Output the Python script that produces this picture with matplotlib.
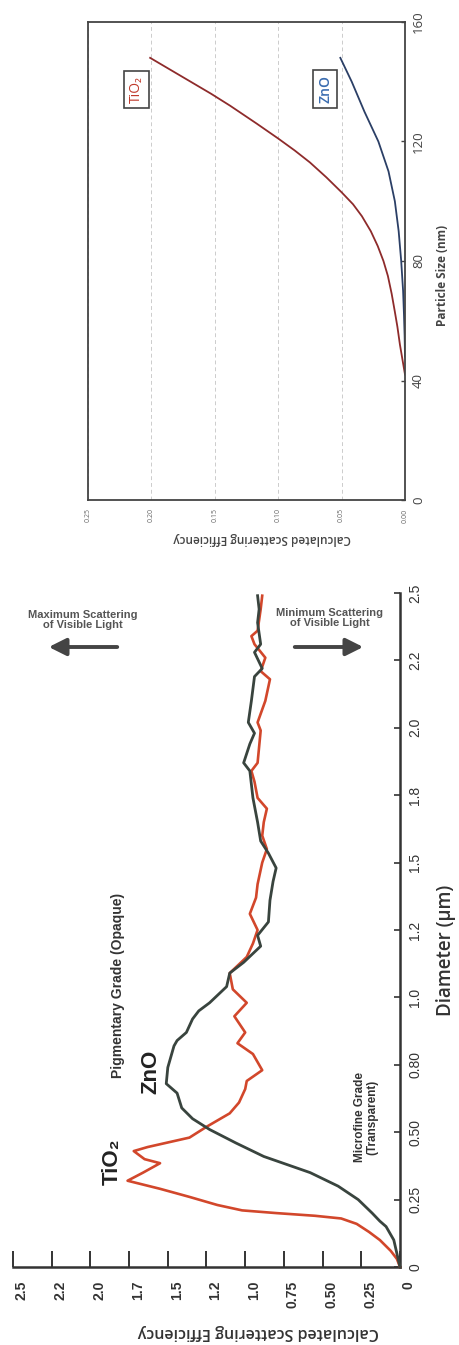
import matplotlib
matplotlib.use("Agg")
import matplotlib.pyplot as plt
import matplotlib.transforms as mtransforms
from matplotlib.patches import FancyArrowPatch

# ---------------- upper panel data (Particle size in nm) ----------------
size_tio2_nm = [42, 47, 52, 58, 63, 69, 75, 80, 85, 90, 95, 99, 103, 108, 113, 117, 121,
                126, 132, 136, 140, 144, 148]
eff_tio2_nm = [0.000, 0.002, 0.004, 0.006, 0.008, 0.0105, 0.0135, 0.0170, 0.0215, 0.027,
               0.034, 0.041, 0.050, 0.062, 0.075, 0.087, 0.100, 0.117, 0.138, 0.153, 0.169,
               0.185, 0.201]
size_zno_nm = [48, 55, 62, 70, 80, 90, 100, 110, 120, 130, 140, 148]
eff_zno_nm = [0.000, 0.0003, 0.0008, 0.0015, 0.003, 0.005, 0.008, 0.013, 0.021, 0.032,
              0.042, 0.051]
upper_size_ticks = [0, 40, 80, 120, 160]
upper_eff_ticks = [0.00, 0.05, 0.10, 0.15, 0.20, 0.25]
upper_eff_ticklabels = ["0.00", "0.05", "0.10", "0.15", "0.20", "0.25"]

# ---------------- lower panel data (Diameter in um) ----------------
diam_tio2 = [0, 0.03, 0.06, 0.10, 0.13, 0.16, 0.18, 0.19, 0.20, 0.21, 0.23, 0.26, 0.29, 0.32,
             0.35, 0.385, 0.40, 0.43, 0.445, 0.48, 0.52, 0.57, 0.61, 0.66, 0.69, 0.73, 0.79,
             0.83, 0.87, 0.93, 0.98, 1.03, 1.09, 1.15, 1.20, 1.25, 1.31, 1.37, 1.42, 1.50,
             1.55, 1.60, 1.65, 1.70, 1.74, 1.80, 1.84, 1.87, 1.93, 1.99, 2.02, 2.10, 2.18,
             2.21, 2.26, 2.31, 2.34, 2.36, 2.40, 2.44, 2.49]
eff_tio2 = [0, 0.02, 0.06, 0.13, 0.20, 0.28, 0.38, 0.55, 0.80, 1.02, 1.18, 1.36, 1.55, 1.76,
            1.66, 1.55, 1.65, 1.72, 1.63, 1.36, 1.25, 1.10, 1.04, 1.00, 0.99, 0.89, 0.95,
            1.05, 1.00, 1.07, 0.99, 1.08, 1.10, 0.99, 0.95, 0.92, 0.97, 0.93, 0.92, 0.89,
            0.86, 0.89, 0.88, 0.86, 0.92, 0.94, 0.96, 0.92, 0.91, 0.90, 0.92, 0.87, 0.84,
            0.90, 0.87, 0.94, 0.96, 0.92, 0.91, 0.90, 0.89]
diam_zno = [0, 0.05, 0.10, 0.15, 0.17, 0.20, 0.25, 0.30, 0.35, 0.41, 0.46, 0.51, 0.55, 0.59,
            0.645, 0.68, 0.74, 0.82, 0.84, 0.87, 0.92, 0.95, 0.98, 1.04, 1.09, 1.13, 1.19,
            1.23, 1.28, 1.36, 1.43, 1.48, 1.535, 1.58, 1.65, 1.74, 1.84, 1.87, 1.94, 1.98,
            2.02, 2.10, 2.19, 2.22, 2.28, 2.31, 2.39, 2.44, 2.49]
eff_zno = [0, 0.02, 0.04, 0.09, 0.13, 0.18, 0.27, 0.40, 0.58, 0.88, 1.06, 1.23, 1.34, 1.41,
           1.44, 1.51, 1.50, 1.46, 1.44, 1.38, 1.34, 1.30, 1.23, 1.12, 1.10, 1.01, 0.90,
           0.92, 0.85, 0.84, 0.82, 0.80, 0.85, 0.90, 0.92, 0.95, 0.97, 1.01, 0.97, 0.94,
           0.98, 0.96, 0.94, 0.89, 0.94, 0.90, 0.92, 0.91, 0.92]
lower_eff_ticks = [0, 0.25, 0.5, 0.75, 1.0, 1.25, 1.5, 1.75, 2.0, 2.25, 2.5]
lower_eff_ticklabels = ["0", "0.25", "0.50", "0.75", "1.0", "1.2", "1.5", "1.7", "2.0", "2.2", "2.5"]
lower_diam_ticks = [0, 0.25, 0.5, 0.75, 1.0, 1.25, 1.5, 1.75, 2.0, 2.25, 2.5]
lower_diam_ticklabels = ["0", "0.25", "0.50", "0.80", "1.0", "1.2", "1.5", "1.8", "2.0", "2.2", "2.5"]

W, H = 460, 1345
fig = plt.figure(figsize=(W / 100, H / 100), dpi=100)
fig.patch.set_facecolor("white")


def fx(x):
    return x / W


def fy(y):
    return 1 - y / H


UP_FONT = ["Open Sans", "DejaVu Sans"]
LO_FONT = ["Liberation Sans", "DejaVu Sans"]

# ======================= upper panel =======================
ax1 = fig.add_axes([fx(88), fy(500), (405 - 88) / W, (500 - 22) / H])
ax1.plot(eff_tio2_nm, size_tio2_nm, color="#8e2b2b", lw=1.3)
ax1.plot(eff_zno_nm, size_zno_nm, color="#2b3f66", lw=1.3)
ax1.set_xlim(0.25, 0)
ax1.set_ylim(0, 160)
ax1.yaxis.tick_right()
ax1.set_yticks(upper_size_ticks)
ax1.set_yticklabels([str(v) for v in upper_size_ticks], rotation=90, va="center",
                    fontsize=9.5, color="#444444", family=UP_FONT)
ax1.set_xticks(upper_eff_ticks)
ax1.set_xticklabels(upper_eff_ticklabels, rotation=90, fontsize=5, color="#666666",
                    family=UP_FONT)
ax1.tick_params(axis="y", direction="in", length=3, width=1, pad=5, colors="#444444")
ax1.tick_params(axis="x", length=0, pad=6)
ax1.grid(axis="x", linestyle=(0, (4, 3)), color="#cccccc", lw=0.7)
for s in ax1.spines.values():
    s.set_color("#444444")
    s.set_linewidth(1.3)

ax1.text(0.212, 137.5, "TiO₂", rotation=90, ha="center", va="center", color="#c0392b",
         fontsize=10, family=UP_FONT,
         bbox=dict(boxstyle="square,pad=0.35", fc="white", ec="#444444", lw=1.2))
ax1.text(0.063, 137.5, "ZnO", rotation=90, ha="center", va="center", color="#3b6db0",
         fontsize=10, fontweight="semibold", family=UP_FONT,
         bbox=dict(boxstyle="square,pad=0.35", fc="white", ec="#444444", lw=1.2))

fig.text(fx(443), fy(275), "Particle Size (nm)", rotation=90, ha="center", va="center",
         fontsize=8.5, fontweight="bold", color="#444444", family=UP_FONT)
fig.text(fx(262), fy(538), "Calculated Scattering Efficiency", rotation=180, ha="center",
         va="center", fontsize=8.5, fontweight="semibold", color="#444444", family=UP_FONT)

# ======================= lower panel =======================
ax2 = fig.add_axes([fx(13), fy(1267), (400 - 13) / W, (1267 - 593) / H])
ax2.plot(eff_tio2, diam_tio2, color="#d2472b", lw=1.9, clip_on=False, zorder=3)
ax2.plot(eff_zno, diam_zno, color="#39443e", lw=2.0, clip_on=False, zorder=4)
ax2.set_xlim(2.5, 0)
ax2.set_ylim(0, 2.5)
ax2.spines["left"].set_visible(False)
ax2.spines["top"].set_visible(False)
for s in ("bottom", "right"):
    ax2.spines[s].set_color("#333333")
    ax2.spines[s].set_linewidth(1.8)
ax2.yaxis.tick_right()
ax2.set_xticks(lower_eff_ticks)
ax2.set_xticklabels(lower_eff_ticklabels, rotation=90, fontsize=10, fontweight="bold",
                    color="#555555", family=LO_FONT)
ax2.set_yticks(lower_diam_ticks)
ax2.set_yticklabels(lower_diam_ticklabels, rotation=90, va="center", fontsize=10,
                    color="#555555", family=LO_FONT)
ax2.tick_params(axis="x", direction="in", length=11.5, width=1.4, pad=10, colors="#333333")
ax2.tick_params(axis="y", direction="in", length=4, width=1.2, pad=6, colors="#333333")
shift = mtransforms.ScaledTranslation(9 / 100, 0, fig.dpi_scale_trans)
for lab in ax2.get_xticklabels():
    lab.set_transform(lab.get_transform() + shift)

fig.text(fx(446), fy(950), "Diameter (µm)", rotation=90, ha="center", va="center",
         fontsize=13.5, fontweight="semibold", color="#333333", family=UP_FONT)
fig.text(fx(258), fy(1332), "Calculated Scattering Efficiency", rotation=180, ha="center",
         va="center", fontsize=11.5, fontweight="semibold", color="#333333", family=UP_FONT)

# annotations
fig.text(fx(112), fy(1162), "TiO₂", rotation=90, ha="center", va="center", fontsize=16,
         fontweight="bold", color="#222222", family=LO_FONT)
fig.text(fx(151), fy(1072), "ZnO", rotation=90, ha="center", va="center", fontsize=16,
         fontweight="bold", color="#222222", family=LO_FONT)
fig.text(fx(118), fy(985), "Pigmentary Grade (Opaque)", rotation=90, ha="center",
         va="center", fontsize=10, fontweight="bold", color="#333333", family=LO_FONT)
fig.text(fx(366), fy(1117), "Microfine Grade\n(Transparent)", rotation=90, ha="center",
         va="center", fontsize=8.5, fontweight="bold", color="#333333", family=LO_FONT,
         linespacing=1.1)
fig.text(fx(83), fy(620), "Maximum Scattering\nof Visible Light", ha="center", va="center",
         fontsize=8, fontweight="bold", color="#555555", family=LO_FONT, linespacing=1.1)
fig.text(fx(330), fy(618), "Minimum Scattering\nof Visible Light", ha="center", va="center",
         fontsize=8, fontweight="bold", color="#555555", family=LO_FONT, linespacing=1.1)

for (x0, x1) in ((120, 46), (292, 366)):
    arr = FancyArrowPatch(posA=(fx(x0), fy(647)), posB=(fx(x1), fy(647)),
                          transform=fig.transFigure,
                          arrowstyle="-|>,head_length=0.8,head_width=0.4",
                          mutation_scale=13, lw=2.8, color="#444444")
    fig.add_artist(arr)

fig.savefig("out.png", dpi=100, facecolor="white")
